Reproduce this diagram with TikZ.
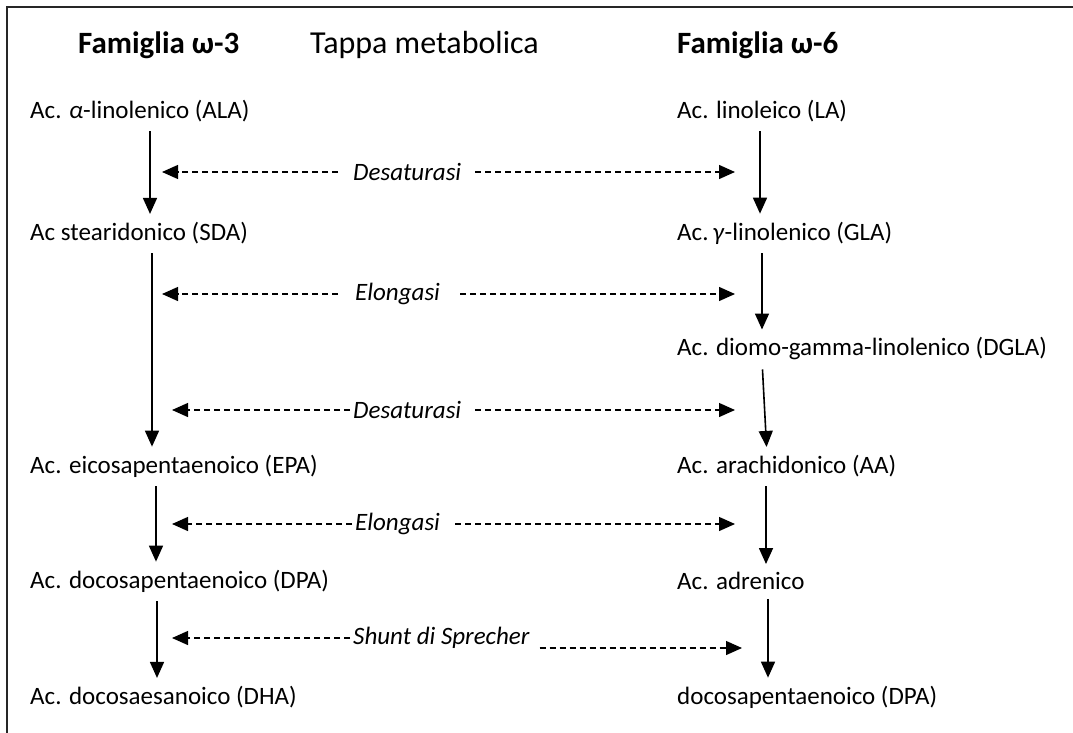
\documentclass[tikz,border=0pt]{standalone}
\usepackage{fontspec}
\setmainfont{Carlito}
\usetikzlibrary{arrows.meta}

\begin{document}
\begin{tikzpicture}[x=1pt,y=-1pt,
  every node/.style={font=\fontsize{25}{30}\selectfont, inner sep=0pt, anchor=west},
  titolo/.style={font=\fontsize{31}{36}\selectfont\bfseries},
  tappa/.style={font=\fontsize{25}{30}\selectfont\itshape},
  flow/.style={line width=1.6pt, shorten <=9pt, shorten >=8pt,
    -{Triangle[length=16pt,width=14pt]}},
  enz/.style={line width=1.3pt, dash pattern=on 6pt off 4pt,
    -{Triangle[length=16pt,width=14pt]}}]
\useasboundingbox (0,0) rectangle (1073,733);
% cornice
\draw[line width=2.5pt, black!85] (1073,7) -- (7,7) -- (7,733);
% intestazioni
\node[titolo] (h3) at (78,45) {Famiglia ω-3};
\node[font=\fontsize{32}{38}\selectfont] (tappa) at (310,45) {Tappa metabolica};
\node[titolo] (h6) at (677,45) {Famiglia ω-6};
% famiglia omega-3
\node (ala) at (30,111) {Ac. \textit{α}-linolenico (ALA)};
\node (sda) at (30,233) {Ac stearidonico (SDA)};
\node (epa) at (30,466) {Ac. eicosapentaenoico (EPA)};
\node (dpa3) at (30,581) {Ac. docosapentaenoico (DPA)};
\node (dha) at (30,697) {Ac. docosaesanoico (DHA)};
% famiglia omega-6
\node (la) at (677,111) {Ac. linoleico (LA)};
\node (gla) at (677,233) {Ac.\,\textit{γ}-linolenico (GLA)};
\node (dgla) at (677,349) {Ac. diomo-gamma-linolenico (DGLA)};
\node (aa) at (677,466) {Ac. arachidonico (AA)};
\node (adr) at (677,581) {Ac. adrenico};
\node (dpa6) at (677,697) {docosapentaenoico (DPA)};
% tappe
\node[tappa] (t1) at (353,172) {Desaturasi};
\node[tappa] (t2) at (355,294) {Elongasi};
\node[tappa] (t3) at (353,410) {Desaturasi};
\node[tappa] (t4) at (355,524) {Elongasi};
\node[tappa] (t5) at (353,638) {Shunt di Sprecher};
\coordinate (t1l) at (162,172); \coordinate (t1r) at (735,172);
\coordinate (t2l) at (162,294); \coordinate (t2r) at (735,294);
\coordinate (t3l) at (172,410); \coordinate (t3r) at (735,410);
\coordinate (t4l) at (172,524); \coordinate (t4r) at (735,524);
\coordinate (t5l) at (172,638); \coordinate (t5r) at (742,648);
% frecce omega-3
\draw[flow] ([xshift=120pt]ala.south west) -- ([xshift=120pt]sda.north west);
\draw[flow] ([xshift=122pt]sda.south west) -- ([xshift=122pt]epa.north west);
\draw[flow] ([xshift=126pt]epa.south west) -- ([xshift=126pt]dpa3.north west);
\draw[flow] ([xshift=127pt]dpa3.south west) -- ([xshift=127pt]dha.north west);
% frecce omega-6
\draw[flow] ([xshift=83pt]la.south west) -- ([xshift=83pt]gla.north west);
\draw[flow] ([xshift=85pt]gla.south west) -- ([xshift=85pt]dgla.north west);
\draw[flow] ([xshift=85pt]dgla.south west) -- ([xshift=90pt]aa.north west);
\draw[flow] ([xshift=89pt]aa.south west) -- ([xshift=89pt]adr.north west);
\draw[flow] ([xshift=91pt]adr.south west) -- ([xshift=91pt]dpa6.north west);
% frecce tratteggiate
\draw[enz, shorten <=15pt] (t1.west) -- (t1l);
\draw[enz, shorten <=14pt] (t1.east) -- (t1r);
\draw[enz, shorten <=17pt] (t2.west) -- (t2l);
\draw[enz, shorten <=20pt] (t2.east) -- (t2r);
\draw[enz, shorten <=3pt] (t3.west) -- (t3l);
\draw[enz, shorten <=14pt] (t3.east) -- (t3r);
\draw[enz, shorten <=3pt] (t4.west) -- (t4l);
\draw[enz, shorten <=15pt] (t4.east) -- (t4r);
\draw[enz, shorten <=3pt] (t5.west) -- (t5l);
\draw[enz, shorten <=10pt] (t5.east |- t5r) -- (t5r);
\end{tikzpicture}
\end{document}
